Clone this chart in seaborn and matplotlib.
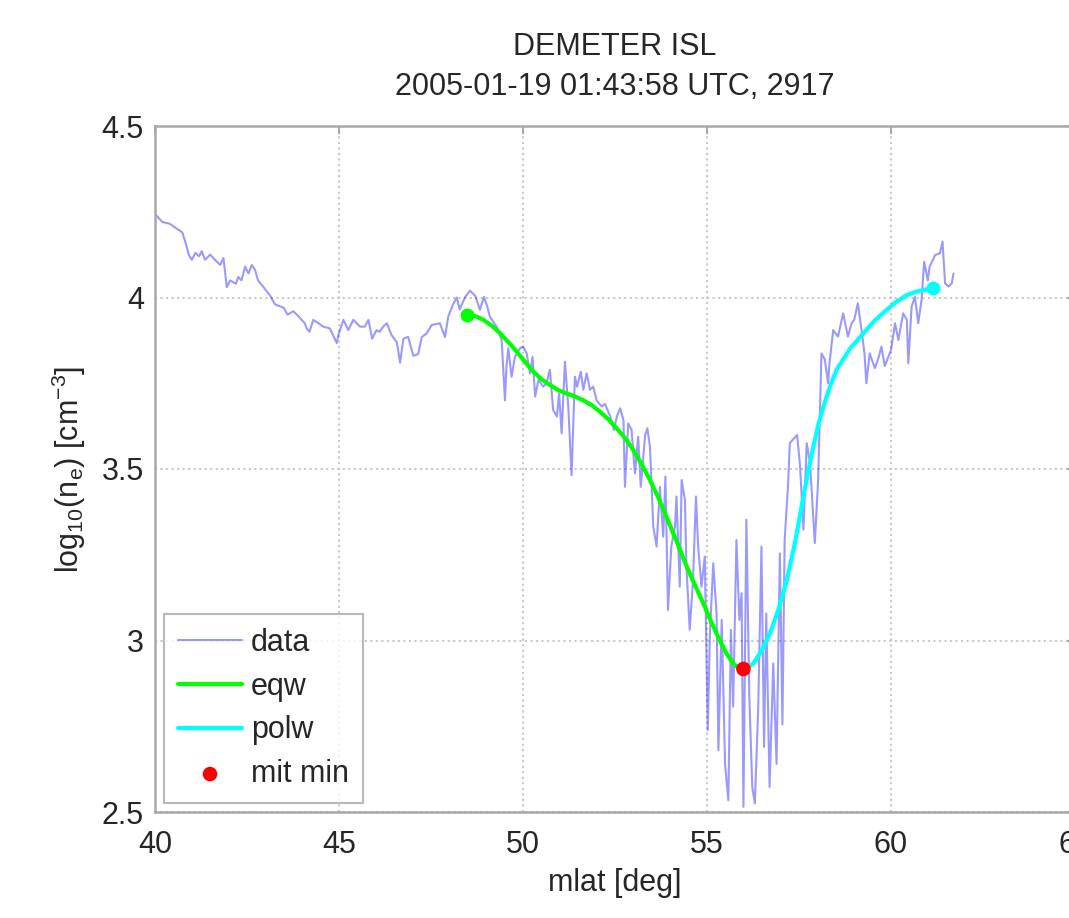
import matplotlib
matplotlib.use("Agg")
import matplotlib.pyplot as plt
import seaborn as sns
import pandas as pd

# --- dados ---
data_mlat = [
    40.03, 40.2, 40.4, 40.6, 40.74, 40.83, 40.92, 41.0, 41.1, 41.2, 41.27, 41.36,
    41.5, 41.63, 41.77, 41.86, 41.95, 42.04, 42.2, 42.26, 42.35, 42.45, 42.54, 42.63,
    42.72, 42.8, 42.95, 43.13, 43.26, 43.5, 43.6, 43.76, 43.9, 44.07, 44.12, 44.2,
    44.3, 44.44, 44.57, 44.75, 44.94, 44.98, 45.12, 45.25, 45.39, 45.57, 45.7, 45.8,
    45.9, 46.02, 46.1, 46.2, 46.3, 46.43, 46.57, 46.66, 46.75, 46.88, 47.02, 47.15,
    47.25, 47.38, 47.52, 47.74, 47.88, 47.97, 48.1, 48.2, 48.28, 48.42, 48.56, 48.7,
    48.74, 48.83, 48.94, 49.03, 49.1, 49.28, 49.42, 49.51, 49.55, 49.6, 49.69, 49.78,
    49.92, 50.0, 50.1, 50.19, 50.26, 50.33, 50.42, 50.55, 50.64, 50.73, 50.82, 50.92,
    50.98, 51.05, 51.14, 51.23, 51.32, 51.41, 51.47, 51.57, 51.64, 51.73, 51.82, 51.91,
    52.0, 52.14, 52.23, 52.37, 52.47, 52.55, 52.64, 52.73, 52.77, 52.86, 52.95, 53.04,
    53.13, 53.2, 53.32, 53.38, 53.45, 53.54, 53.63, 53.72, 53.81, 53.87, 53.94, 54.03,
    54.13, 54.17, 54.26, 54.31, 54.4, 54.44, 54.53, 54.62, 54.7, 54.76, 54.85, 54.94,
    55.02, 55.08, 55.17, 55.26, 55.31, 55.4, 55.49, 55.58, 55.65, 55.71, 55.8, 55.88,
    55.94, 55.99, 56.07, 56.15, 56.23, 56.3, 56.39, 56.48, 56.55, 56.61, 56.7, 56.8,
    56.89, 56.98, 57.05, 57.11, 57.2, 57.25, 57.36, 57.45, 57.53, 57.62, 57.71, 57.8,
    57.93, 58.02, 58.11, 58.2, 58.29, 58.33, 58.43, 58.56, 58.7, 58.83, 58.93, 59.0,
    59.1, 59.2, 59.28, 59.33, 59.42, 59.56, 59.65, 59.74, 59.83, 60.0, 60.11, 60.2,
    60.33, 60.43, 60.47, 60.56, 60.65, 60.74, 60.83, 60.9, 61.0, 61.05, 61.2, 61.33,
    61.4, 61.47, 61.56, 61.65, 61.7,
]
data_ne = [
    4.24, 4.22, 4.215, 4.20, 4.19, 4.16, 4.124, 4.11, 4.13, 4.12, 4.135, 4.11,
    4.125, 4.11, 4.095, 4.115, 4.03, 4.05, 4.04, 4.06, 4.05, 4.09, 4.07, 4.095,
    4.08, 4.05, 4.03, 4.005, 3.98, 3.97, 3.95, 3.96, 3.945, 3.925, 3.91, 3.90,
    3.935, 3.925, 3.915, 3.91, 3.867, 3.89, 3.935, 3.905, 3.935, 3.915, 3.915, 3.935,
    3.88, 3.905, 3.90, 3.915, 3.925, 3.89, 3.87, 3.81, 3.88, 3.885, 3.83, 3.835,
    3.885, 3.895, 3.92, 3.925, 3.885, 3.945, 3.98, 4.00, 3.965, 4.00, 4.02, 4.005,
    3.993, 3.964, 4.002, 3.973, 3.944, 3.915, 3.876, 3.70, 3.798, 3.852, 3.769, 3.827,
    3.852, 3.857, 3.837, 3.779, 3.827, 3.711, 3.76, 3.74, 3.75, 3.789, 3.672, 3.653,
    3.72, 3.604, 3.813, 3.682, 3.482, 3.769, 3.74, 3.784, 3.731, 3.779, 3.731, 3.74,
    3.70, 3.682, 3.69, 3.653, 3.614, 3.653, 3.677, 3.643, 3.448, 3.633, 3.614, 3.487,
    3.594, 3.448, 3.599, 3.619, 3.565, 3.332, 3.274, 3.448, 3.303, 3.478, 3.089, 3.274,
    3.332, 3.42, 3.157, 3.468, 3.41, 3.216, 3.031, 3.176, 3.42, 3.274, 3.157, 3.245,
    2.739, 3.021, 3.225, 3.079, 2.68, 3.06, 2.64, 2.534, 3.031, 2.807, 3.293, 3.06,
    3.138, 2.515, 3.352, 2.836, 2.573, 2.525, 2.797, 3.274, 2.69, 3.079, 2.573, 2.933,
    2.64, 3.254, 2.755, 3.293, 3.448, 3.575, 3.589, 3.599, 3.507, 3.323, 3.575, 3.517,
    3.284, 3.468, 3.837, 3.82, 3.75, 3.81, 3.905, 3.886, 3.954, 3.886, 3.925, 3.935,
    3.983, 3.905, 3.837, 3.75, 3.837, 3.794, 3.82, 3.857, 3.80, 3.847, 3.925, 3.876,
    3.954, 3.935, 3.808, 3.973, 4.002, 3.925, 3.993, 4.104, 4.05, 4.09, 4.124, 4.129,
    4.163, 4.041, 4.032, 4.041, 4.07,
]

eqw_mlat = [48.47, 48.7, 48.92, 49.15, 49.375, 49.6, 49.83, 50.05, 50.28, 50.5,
            50.73, 50.96, 51.19, 51.42, 51.64, 51.87, 52.09, 52.32, 52.55, 52.78,
            53.0, 53.22, 53.45, 53.68, 53.9, 54.18, 54.45, 54.68, 54.9, 55.12,
            55.35, 55.53, 55.71, 55.85, 55.99]
eqw_ne = [3.949, 3.946, 3.935, 3.918, 3.896, 3.87, 3.842, 3.813, 3.784, 3.762,
          3.745, 3.73, 3.72, 3.711, 3.70, 3.686, 3.667, 3.645, 3.618, 3.589,
          3.555, 3.515, 3.468, 3.416, 3.36, 3.288, 3.215, 3.16, 3.108, 3.053,
          3.0, 2.962, 2.933, 2.921, 2.917]

polw_mlat = [55.99, 56.12, 56.26, 56.48, 56.71, 56.94, 57.17, 57.4, 57.62, 57.76,
             57.89, 58.02, 58.16, 58.34, 58.52, 58.88, 59.25, 59.56, 59.88, 60.15,
             60.43, 60.66, 60.88, 61.02, 61.15]
polw_ne = [2.917, 2.922, 2.933, 2.97, 3.02, 3.09, 3.176, 3.29, 3.42, 3.497,
           3.565, 3.627, 3.68, 3.74, 3.789, 3.85, 3.896, 3.933, 3.964, 3.988,
           4.007, 4.016, 4.022, 4.025, 4.027]

mit_min_mlat = [55.99]
mit_min_ne = [2.917]

df_data = pd.DataFrame({"mlat": data_mlat, "ne": data_ne})
df_eqw = pd.DataFrame({"mlat": eqw_mlat, "ne": eqw_ne})
df_polw = pd.DataFrame({"mlat": polw_mlat, "ne": polw_ne})
df_min = pd.DataFrame({"mlat": mit_min_mlat, "ne": mit_min_ne})

sns.set_theme(style="white")
plt.rcParams["font.family"] = ["Liberation Sans", "DejaVu Sans"]
plt.rcParams["mathtext.default"] = "regular"

fig = plt.figure(figsize=(10.69, 9.18), dpi=100)
ax = fig.add_axes([155 / 1069, 106 / 918, 920 / 1069, 686 / 918])

sns.lineplot(data=df_data, x="mlat", y="ne", ax=ax, sort=False, estimator=None,
             color="blue", alpha=0.4, linewidth=1.5, label="data")
sns.lineplot(data=df_eqw, x="mlat", y="ne", ax=ax, sort=False, estimator=None,
             color="#00ff00", linewidth=3, label="eqw")
sns.lineplot(data=df_polw, x="mlat", y="ne", ax=ax, sort=False, estimator=None,
             color="#00ffff", linewidth=3, label="polw")
# pontos nas extremidades das curvas
ax.plot(eqw_mlat[0], eqw_ne[0], "o", color="#00ff00", markersize=9)
ax.plot(polw_mlat[-1], polw_ne[-1], "o", color="#00ffff", markersize=9)
sns.scatterplot(data=df_min, x="mlat", y="ne", ax=ax, color="red", s=110,
                edgecolor="none", label="mit min", zorder=5)

ax.set_xlim(40, 65)
ax.set_ylim(2.5, 4.5)
ax.set_xticks([40, 45, 50, 55, 60, 65])
ax.set_yticks([2.5, 3, 3.5, 4, 4.5])
ax.set_yticklabels(["2.5", "3", "3.5", "4", "4.5"])

ax.grid(True, linestyle=":", color="#c8c8c8", linewidth=1.5)
for s in ax.spines.values():
    s.set_color("#a8a8a8")
    s.set_linewidth(1.8)
ax.tick_params(direction="in", top=True, right=True, length=6, width=1.5,
               color="#a8a8a8", labelsize=22, labelcolor="#262626", pad=8)
ax.tick_params(axis="x", pad=13)

ax.set_xlabel("mlat [deg]", fontsize=22, color="#262626", labelpad=6)
ax.set_ylabel("log$_{10}$(n$_e$) [cm$^{-3}$]", fontsize=22, color="#262626", labelpad=10)
ax.set_title("DEMETER ISL\n2005-01-19 01:43:58 UTC, 2917", fontsize=22,
             color="#262626", pad=22, linespacing=1.45)

leg = ax.legend(loc="lower left", fontsize=22, frameon=True, fancybox=False,
                handlelength=2.1, labelspacing=0.45, borderpad=0.45,
                handletextpad=0.3, borderaxespad=0.3)
leg.get_frame().set_edgecolor("#a8a8a8")
leg.get_frame().set_linewidth(1.5)
for t in leg.get_texts():
    t.set_color("#262626")

fig.savefig("out.png", dpi=100)
